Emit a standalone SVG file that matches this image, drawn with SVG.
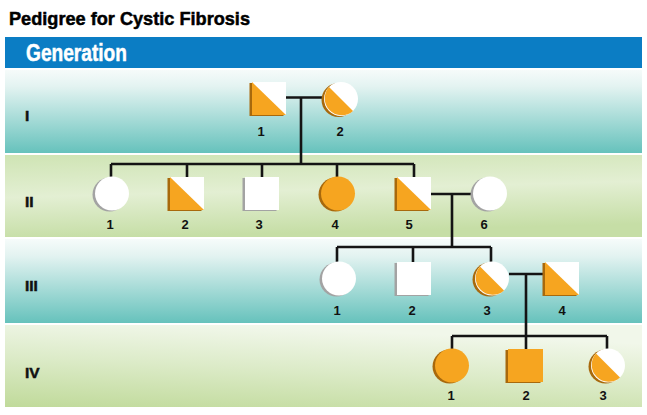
<svg xmlns="http://www.w3.org/2000/svg" width="647" height="415" viewBox="0 0 647 415">
<defs>
<linearGradient id="teal" x1="0" y1="0" x2="0" y2="1">
<stop offset="0" stop-color="#f6fbfa"/>
<stop offset="0.2" stop-color="#e3f3f1"/>
<stop offset="1" stop-color="#66c2bc"/>
</linearGradient>
<linearGradient id="green" x1="0" y1="1" x2="0.35" y2="0">
<stop offset="0" stop-color="#c0da9a"/>
<stop offset="0.55" stop-color="#dcebc8"/>
<stop offset="1" stop-color="#f1f7ea"/>
</linearGradient>
<linearGradient id="green2" x1="0" y1="0" x2="0.2" y2="1">
<stop offset="0" stop-color="#cfe4b4"/>
<stop offset="0.5" stop-color="#e3efd3"/>
<stop offset="1" stop-color="#c6dea6"/>
</linearGradient>
</defs>
<style>
.title{font-family:"Liberation Sans",Arial,sans-serif;font-weight:bold;fill:#000;stroke:#000;stroke-width:0.5}
.hdr{font-family:"Liberation Sans",Arial,sans-serif;font-weight:bold;fill:#fff;stroke:#fff;stroke-width:0.5}
.gen{font-family:"Liberation Sans",Arial,sans-serif;font-weight:bold;font-size:15.5px;fill:#111;stroke:#111;stroke-width:0.5}
.lbl{font-family:"Liberation Sans",Arial,sans-serif;font-weight:bold;font-size:13px;fill:#111;text-anchor:middle}
.w{fill:#ffffff}
.o{fill:#f6a520}
.shw{fill:#a3a3a3}
.sho{fill:#a8690c}
.ln{fill:none;stroke:#141414;stroke-width:2.6}
</style>

<text class="title" x="9" y="25" font-size="19" textLength="241" lengthAdjust="spacingAndGlyphs">Pedigree for Cystic Fibrosis</text>
<rect x="5" y="37" width="637" height="31" fill="#0b7dc4"/>
<text class="hdr" x="26" y="61" font-size="24" textLength="101" lengthAdjust="spacingAndGlyphs">Generation</text>

<rect x="5" y="70" width="637" height="83" fill="url(#teal)"/>
<rect x="5" y="155" width="637" height="82" fill="url(#green2)"/>
<rect x="5" y="239" width="637" height="84" fill="url(#teal)"/>
<rect x="5" y="325" width="637" height="82" fill="url(#green)"/>

<text class="gen" x="25" y="121">I</text>
<text class="gen" x="25" y="207">II</text>
<text class="gen" x="25" y="291">III</text>
<text class="gen" x="25" y="378">IV</text>

<g id="connectors">
<path class="ln" d="M286 97.5H324M301 97.5V164"/>
<path class="ln" d="M111 164H414M111 164V177M187 164V177M262 164V177M337 164V177M414 164V177"/>
<path class="ln" d="M431 194H473M452 194V247"/>
<path class="ln" d="M337 247H491M337 247V262M413 247V262M491 247V262"/>
<path class="ln" d="M509 274H545M526 274V336"/>
<path class="ln" d="M452 336H607M452 336V349M526 336V349M607 336V349"/>
</g>

<g id="I-1">
<rect class="sho" x="249.5" y="83" width="34" height="33"/>
<rect class="w" x="252" y="82" width="34" height="33"/>
<path class="o" d="M252 82L286 115H252Z"/>
<text class="lbl" x="261" y="136">1</text>
</g>
<g id="I-2">
<circle class="sho" cx="338.5" cy="100" r="17"/>
<circle class="w" cx="341" cy="99" r="17"/>
<path class="o" d="M329 87A17 17 0 0 0 353 111Z"/>
<text class="lbl" x="340" y="136">2</text>
</g>

<g id="II-1">
<circle class="shw" cx="109.5" cy="194.5" r="17"/>
<circle class="w" cx="112" cy="193.5" r="17"/>
<text class="lbl" x="110" y="229">1</text>
</g>
<g id="II-2">
<rect class="sho" x="167.5" y="178" width="34" height="33"/>
<rect class="w" x="170" y="177" width="34" height="33"/>
<path class="o" d="M170 177L204 210H170Z"/>
<text class="lbl" x="185" y="229">2</text>
</g>
<g id="II-3">
<rect class="shw" x="242.5" y="178" width="34" height="33"/>
<rect class="w" x="245" y="177" width="34" height="33"/>
<text class="lbl" x="259" y="229">3</text>
</g>
<g id="II-4">
<circle class="sho" cx="335.5" cy="194.5" r="17"/>
<circle class="o" cx="338" cy="193.5" r="17"/>
<text class="lbl" x="335" y="229">4</text>
</g>
<g id="II-5">
<rect class="sho" x="394.5" y="178" width="34" height="33"/>
<rect class="w" x="397" y="177" width="34" height="33"/>
<path class="o" d="M397 177L431 210H397Z"/>
<text class="lbl" x="409" y="229">5</text>
</g>
<g id="II-6">
<circle class="shw" cx="487.5" cy="194.5" r="17"/>
<circle class="w" cx="490" cy="193.5" r="17"/>
<text class="lbl" x="484" y="229">6</text>
</g>

<g id="III-1">
<circle class="shw" cx="336.5" cy="279.5" r="17"/>
<circle class="w" cx="339" cy="278.5" r="17"/>
<text class="lbl" x="337" y="315">1</text>
</g>
<g id="III-2">
<rect class="shw" x="394.5" y="263" width="34" height="33"/>
<rect class="w" x="397" y="262" width="34" height="33"/>
<text class="lbl" x="412" y="315">2</text>
</g>
<g id="III-3">
<circle class="sho" cx="489.5" cy="279.5" r="17"/>
<circle class="w" cx="492" cy="278.5" r="17"/>
<path class="o" d="M480 266.5A17 17 0 0 0 504 290.5Z"/>
<text class="lbl" x="487" y="315">3</text>
</g>
<g id="III-4">
<rect class="sho" x="542.5" y="263" width="34" height="33"/>
<rect class="w" x="545" y="262" width="34" height="33"/>
<path class="o" d="M545 262L579 295H545Z"/>
<text class="lbl" x="562" y="315">4</text>
</g>

<g id="IV-1">
<circle class="sho" cx="449.5" cy="366.5" r="17"/>
<circle class="o" cx="452" cy="365.5" r="17"/>
<text class="lbl" x="451" y="400">1</text>
</g>
<g id="IV-2">
<rect class="sho" x="505.5" y="350" width="35" height="33"/>
<rect class="o" x="508" y="349" width="35" height="33"/>
<text class="lbl" x="526" y="400">2</text>
</g>
<g id="IV-3">
<circle class="sho" cx="605.5" cy="366.5" r="17"/>
<circle class="w" cx="608" cy="365.5" r="17"/>
<path class="o" d="M596 353.5A17 17 0 0 0 620 377.5Z"/>
<text class="lbl" x="603" y="400">3</text>
</g>
</svg>
